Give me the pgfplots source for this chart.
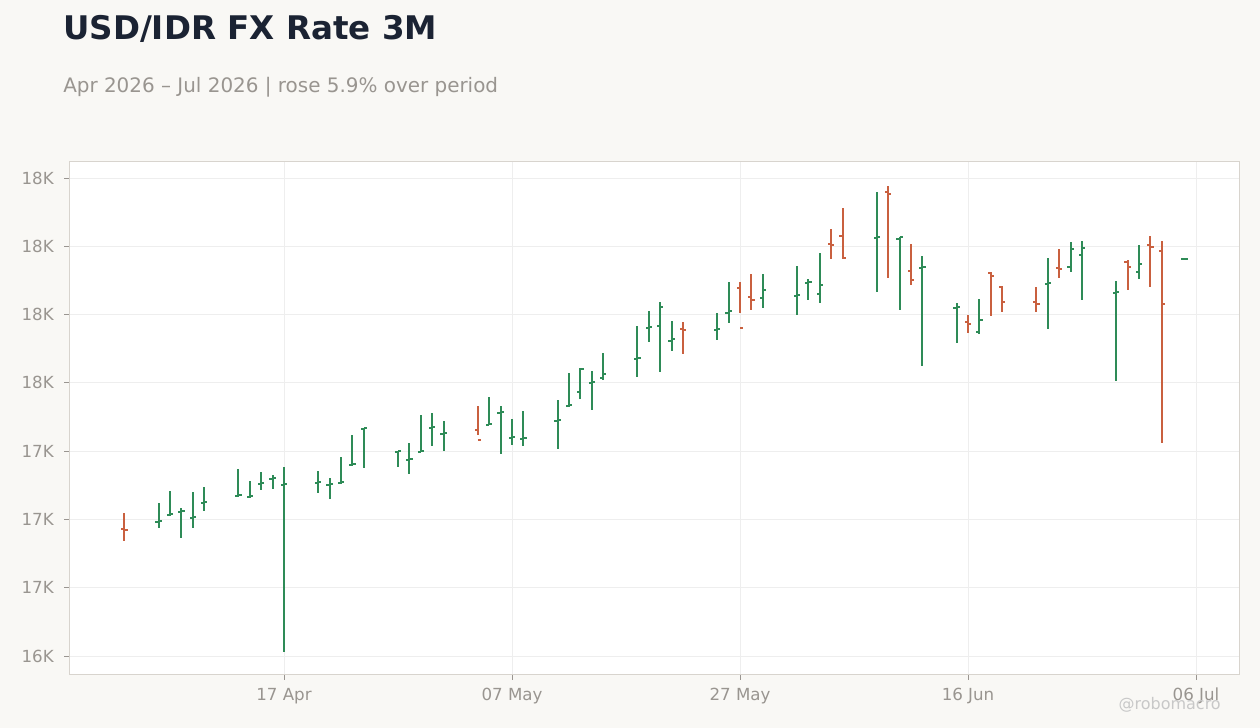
\documentclass[border=0pt]{standalone}
\usepackage{pgfplots}
\pgfplotsset{compat=1.18}
\usepackage{pgfplotstable}
\usepackage{fontspec}
\setmainfont{DejaVu Sans}
\definecolor{bgc}{HTML}{F9F8F5}
\definecolor{upc}{HTML}{2E8B57}
\definecolor{dnc}{HTML}{C9603F}
\definecolor{titlec}{HTML}{1B2333}
\definecolor{subc}{HTML}{999590}
\definecolor{framec}{HTML}{D8D4CE}
\definecolor{gridc}{HTML}{EEEEEE}
\definecolor{wmc}{HTML}{C8C8C8}

\pgfplotstableread{
x o h l c
-11 16991 17060 16970 16993
-10 17016 17104 17012 17019
-9 17027 17042 16933 17030
-8 17005 17100 16970 17008
-7 17060 17119 17032 17063
-4 17086 17185 17083 17088
-3 17081 17141 17080 17085
-2 17129 17174 17109 17132
-1 17147 17163 17112 17151
0 17126 17192 16516 17129
3 17132 17177 17098 17136
4 17126 17152 17074 17129
5 17132 17229 17130 17136
6 17199 17309 17197 17203
7 17330 17335 17189 17334
10 17247 17252 17193 17249
11 17218 17280 17167 17220
12 17247 17382 17245 17251
13 17335 17390 17270 17337
14 17313 17360 17252 17315
18 17346 17448 17345 17348
19 17389 17415 17241 17392
20 17297 17368 17274 17301
21 17293 17397 17270 17297
24 17359 17437 17259 17363
25 17415 17536 17413 17418
26 17468 17553 17440 17552
27 17498 17543 17402 17502
28 17518 17609 17512 17534
31 17586 17708 17523 17590
32 17701 17763 17651 17703
33 17709 17796 17541 17779
34 17654 17726 17618 17662
38 17693 17756 17658 17696
39 17757 17869 17720 17764
42 17812 17899 17775 17841
45 17818 17928 17750 17821
46 17864 17880 17804 17868
47 17826 17975 17793 17859
52 18029 18199 17834 18033
54 18028 18034 17768 18033
56 17919 17964 17563 17923
59 17773 17792 17647 17777
61 17687 17807 17680 17731
67 17861 17957 17698 17864
69 17925 18016 17907 17991
70 17969 18019 17804 17995
73 17828 17873 17508 17832
75 17907 18005 17881 17936
79 17955 17955 17955 17955
}\up

\pgfplotstableread{
x o h l c
-14 16965 17024 16922 16961
17 17328 17415 17310 17291
35 17696 17723 17607 17693
40 17848 17869 17757 17701
41 17815 17899 17768 17803
48 18009 18063 17955 18005
49 18039 18140 17955 17957
53 18200 18221 17885 18192
55 17911 18008 17859 17878
60 17724 17748 17684 17717
62 17903 17906 17746 17892
63 17852 17856 17760 17797
66 17797 17851 17760 17790
68 17919 17990 17885 17916
74 17944 17950 17841 17925
76 18006 18038 17852 17998
77 17984 18019 17281 17789
}\down

\begin{document}
\begin{tikzpicture}
\fill[bgc] (0,0) rectangle (945pt,546pt);
\path[use as bounding box] (0,0) rectangle (945pt,546pt);
\begin{axis}[
  at={(51.75pt,39.75pt)}, anchor=south west,
  scale only axis, width=877.5pt, height=384.75pt,
  xmin=-18.86, xmax=83.77, ymin=16430.4, ymax=18308.5,
  axis background/.style={fill=white},
  axis line style={framec, line width=0.75pt},
  xtick={0,20,40,60,80},
  xticklabels={17 Apr,07 May,27 May,16 Jun,06 Jul},
  ytick={16500,16750,17000,17250,17500,17750,18000,18250},
  yticklabels={16K,17K,17K,17K,18K,18K,18K,18K},
  scaled y ticks=false, scaled x ticks=false,
  /pgf/number format/assume math mode=true,
  xtick pos=bottom, ytick pos=left,
  tick align=outside, major tick length=3.75pt,
  tick style={subc, line width=0.6pt},
  grid=major, major grid style={gridc, line width=0.6pt},
  tick label style={font=\fontsize{12.5pt}{14pt}\selectfont, text=subc},
  yticklabel style={inner xsep=0pt, xshift=-7.5pt},
  xticklabel style={inner ysep=0pt, yshift=-6pt},
  clip=false,
]
% green bars: high-low line, open tick (left), close tick (right)
\addplot[upc, line width=1.5pt, mark=none, forget plot, quiver={u=0, v=\thisrow{h}-\thisrow{l}}]
  table[x=x, y=l] {\up};
\addplot[upc, line width=1.5pt, mark=none, forget plot, quiver={u=-0.28, v=0}]
  table[x=x, y=o] {\up};
\addplot[upc, line width=1.5pt, mark=none, forget plot, quiver={u=0.28, v=0}]
  table[x=x, y=c] {\up};
% red bars
\addplot[dnc, line width=1.5pt, mark=none, forget plot, quiver={u=0, v=\thisrow{h}-\thisrow{l}}]
  table[x=x, y=l] {\down};
\addplot[dnc, line width=1.5pt, mark=none, forget plot, quiver={u=-0.28, v=0}]
  table[x=x, y=o] {\down};
\addplot[dnc, line width=1.5pt, mark=none, forget plot, quiver={u=0.28, v=0}]
  table[x=x, y=c] {\down};
\end{axis}
\node[anchor=base west, inner sep=0pt, text=titlec, font=\fontsize{24.4pt}{28pt}\selectfont\bfseries] at (47.25pt,516pt) {USD/IDR FX Rate 3M};
\node[anchor=base west, inner sep=0pt, text=subc, font=\fontsize{14.95pt}{17pt}\selectfont] at (47.25pt,476.8pt) {Apr 2026 – Jul 2026 | rose 5.9\% over period};
\node[anchor=base east, inner sep=0pt, text=wmc, font=\fontsize{12pt}{14pt}\selectfont] at (915.75pt,13.5pt) {@robomacro};
\end{tikzpicture}
\end{document}
